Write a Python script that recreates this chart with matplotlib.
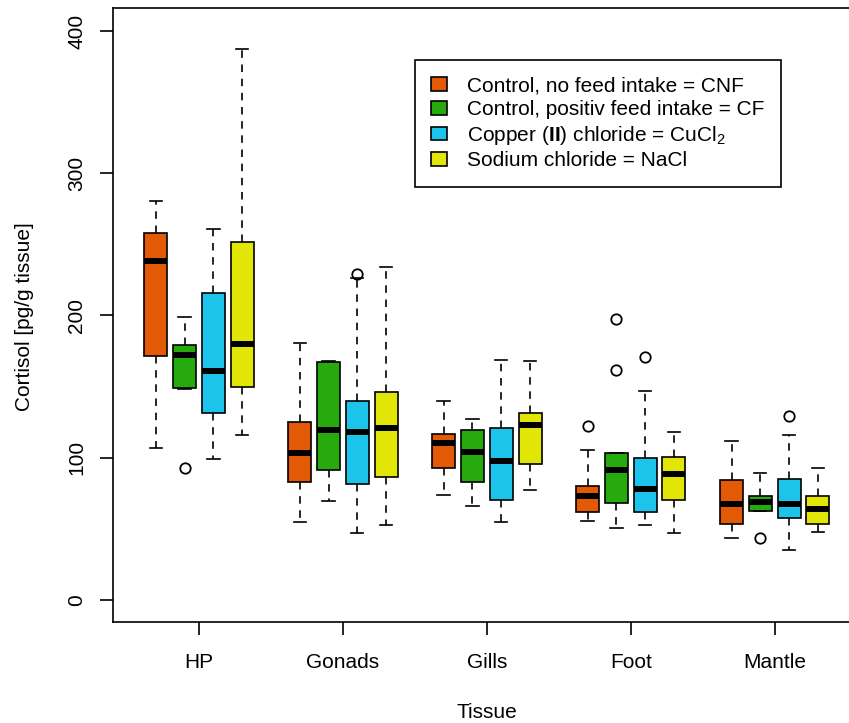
import matplotlib
matplotlib.use("Agg")
import matplotlib.pyplot as plt
from matplotlib.patches import Patch

plt.rcParams["font.family"] = ["Liberation Sans", "DejaVu Sans"]
plt.rcParams["mathtext.fontset"] = "custom"
plt.rcParams["mathtext.rm"] = "Liberation Sans"
plt.rcParams["mathtext.bf"] = "Liberation Sans:bold"

# tissues (rows) x treatments (columns: CNF, CF, CuCl2, NaCl)
tissues = ["HP", "Gonads", "Gills", "Foot", "Mantle"]
treatments = [
    "Control, no feed intake = CNF",
    "Control, positiv feed intake = CF",
    r"Copper ($\mathbf{II}$) chloride = CuCl$_2$",
    "Sodium chloride = NaCl",
]
colors = ["#E35A06", "#26AA0E", "#1CC4EC", "#E2E606"]

whislo = [
    [107.0, 148.5, 99.0, 116.0],
    [54.8, 69.6, 47.0, 53.0],
    [74.0, 66.3, 54.6, 77.1],
    [55.8, 50.6, 52.7, 47.3],
    [43.8, 62.6, 35.1, 48.0],
]
q1 = [
    [171.5, 149.3, 131.2, 149.7],
    [82.7, 91.6, 81.5, 86.7],
    [93.0, 82.7, 70.3, 95.4],
    [61.6, 68.2, 62.1, 70.5],
    [53.6, 62.6, 57.6, 53.6],
]
med = [
    [238.5, 172.4, 161.2, 180.0],
    [103.5, 119.5, 117.9, 121.1],
    [110.6, 104.3, 97.9, 122.8],
    [73.1, 91.2, 77.8, 88.6],
    [67.7, 68.9, 67.5, 64.2],
]
q3 = [
    [258.2, 179.3, 215.6, 251.4],
    [125.3, 167.1, 139.9, 146.4],
    [116.5, 119.5, 120.9, 131.5],
    [79.9, 103.6, 100.0, 100.7],
    [84.1, 73.1, 85.1, 73.1],
]
whishi = [
    [280.5, 198.9, 260.6, 387.3],
    [180.9, 167.8, 226.5, 234.3],
    [140.1, 127.5, 168.5, 167.8],
    [105.4, 103.6, 147.1, 118.1],
    [111.8, 89.3, 115.8, 92.6],
]
fliers = [
    [[], [93.0], [], []],
    [[], [], [229.0], []],
    [[], [], [], []],
    [[122.1], [161.5, 197.8], [170.6], []],
    [[], [43.6], [129.3], []],
]

fig = plt.figure(figsize=(8.49, 7.23), dpi=100)
ax = fig.add_axes([0.1335, 0.1397, 0.8807, 0.8499])

offsets = [-0.3, -0.1, 0.1, 0.3]
lw = 1.2
fs = 15
for j, col in enumerate(colors):
    stats = []
    pos = []
    for i in range(len(tissues)):
        stats.append({
            "whislo": whislo[i][j], "q1": q1[i][j], "med": med[i][j],
            "q3": q3[i][j], "whishi": whishi[i][j], "fliers": fliers[i][j],
        })
        pos.append(i + 1 + offsets[j])
    ax.bxp(stats, positions=pos, widths=0.16, capwidths=0.086,
           patch_artist=True, showfliers=True,
           boxprops=dict(facecolor=col, edgecolor="black", linewidth=lw),
           medianprops=dict(color="black", linewidth=4.3, solid_capstyle="butt"),
           whiskerprops=dict(color="black", linewidth=lw, linestyle=(0, (4.5, 4))),
           capprops=dict(color="black", linewidth=lw),
           flierprops=dict(marker="o", markerfacecolor="none",
                           markeredgecolor="black", markersize=7.5,
                           markeredgewidth=1.3))

ax.set_xlim(0.405, 5.6)
ax.set_ylim(-15.5, 416.5)
ax.set_xticks(range(1, len(tissues) + 1))
ax.set_xticklabels(tissues)
ax.set_yticks([0, 100, 200, 300, 400])
ax.set_yticklabels(["0", "100", "200", "300", "400"], rotation=90, va="center")
ax.tick_params(axis="both", length=9.5, width=lw, labelsize=fs)
ax.tick_params(axis="x", pad=12.5)
ax.tick_params(axis="y", pad=10)
for s in ax.spines.values():
    s.set_linewidth(lw)

fig.text(25 / 849, 1 - 317 / 723, "Cortisol [pg/g tissue]", rotation=90,
         ha="center", va="center", fontsize=fs)
fig.text(487 / 849, 1 - 712 / 723, "Tissue", ha="center", va="center",
         fontsize=fs)

handles = [Patch(facecolor=c, edgecolor="black", linewidth=lw) for c in colors]
leg = ax.legend(handles, treatments, loc="upper left",
                bbox_to_anchor=(414.7 / 849, 1 - 60 / 723),
                bbox_transform=fig.transFigure, fontsize=fs, frameon=True,
                fancybox=False, edgecolor="black", framealpha=1,
                handlelength=0.75, handleheight=0.65, handletextpad=0.95,
                labelspacing=0.22, borderpad=0.8, borderaxespad=0)
leg.get_frame().set_linewidth(lw)

fig.savefig("out.png", dpi=100)
